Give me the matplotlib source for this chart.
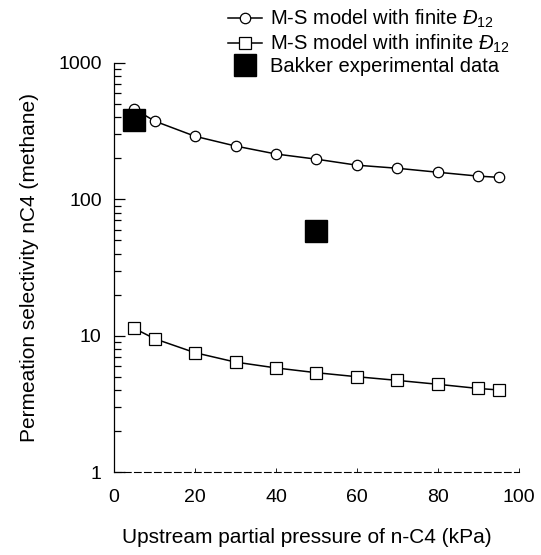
import matplotlib
matplotlib.use("Agg")
import matplotlib.pyplot as plt
import matplotlib.ticker as ticker

plt.rcParams['font.family'] = ['Liberation Sans', 'DejaVu Sans']
plt.rcParams['mathtext.fontset'] = 'custom'
plt.rcParams['mathtext.rm'] = 'Liberation Sans'
plt.rcParams['mathtext.it'] = 'Liberation Sans:italic'

# pressure of n-C4 (kPa)
pressure = [5, 10, 20, 30, 40, 50, 60, 70, 80, 90, 95]
finite_sel = [460, 375, 290, 246, 215, 197, 178, 169, 158, 148, 145]
infinite_sel = [11.3, 9.5, 7.5, 6.4, 5.8, 5.35, 5.0, 4.7, 4.4, 4.1, 4.0]

bakker_p = [5, 50]
bakker_sel = [380, 59]

fig = plt.figure(figsize=(5.41, 5.55), dpi=100)
ax = fig.add_axes([0.211, 0.1495, 0.748, 0.737])

ax.plot(pressure, finite_sel, color='black', lw=1.1, marker='o', ms=7.5,
        mfc='white', mec='black', mew=0.9,
        label='M-S model with finite $Đ_{12}$')
ax.plot(pressure, infinite_sel, color='black', lw=1.1, marker='s', ms=9,
        mfc='white', mec='black', mew=0.9,
        label='M-S model with infinite $Đ_{12}$')
ax.plot(bakker_p, bakker_sel, ls='none', marker='s', ms=16, color='black',
        label='Bakker experimental data')

ax.set_yscale('log')
ax.set_xlim(0, 100)
ax.set_ylim(1, 1000)
ax.xaxis.set_major_locator(ticker.MultipleLocator(20))
ax.yaxis.set_major_locator(ticker.LogLocator(base=10))
ax.yaxis.set_major_formatter(ticker.FuncFormatter(lambda v, p: '%d' % v))
ax.yaxis.set_minor_locator(ticker.LogLocator(base=10, subs=range(2, 10)))
ax.yaxis.set_minor_formatter(ticker.NullFormatter())

for s in ['top', 'right']:
    ax.spines[s].set_visible(False)
ax.spines['left'].set_linewidth(0.9)
ax.spines['bottom'].set_linewidth(0.8)
ax.spines['bottom'].set_linestyle((0, (6, 3)))

ax.tick_params(axis='y', which='major', direction='in', length=8, width=0.9,
               labelsize=14, pad=9)
ax.tick_params(axis='y', which='minor', direction='in', length=5, width=0.9)
ax.tick_params(axis='x', which='major', direction='in', length=3, width=0.6,
               labelsize=14, pad=12)

ax.set_xlabel('Upstream partial pressure of n-C4 (kPa)', fontsize=15)
ax.set_ylabel('Permeation selectivity nC4 (methane)', fontsize=15)
ax.xaxis.set_label_coords(0.475, -0.159)
ax.yaxis.set_label_coords(-0.21, 0.5)
ax.xaxis.label.set_va('center')
ax.yaxis.label.set_va('center')

ax.legend(loc='upper left', bbox_to_anchor=(228 / 541, 1 - 8 / 555),
          bbox_transform=fig.transFigure, frameon=False, fontsize=14.5,
          handlelength=1.7, handletextpad=0.4, labelspacing=0.12,
          borderpad=0, borderaxespad=0)

fig.savefig('out.png', dpi=100)
